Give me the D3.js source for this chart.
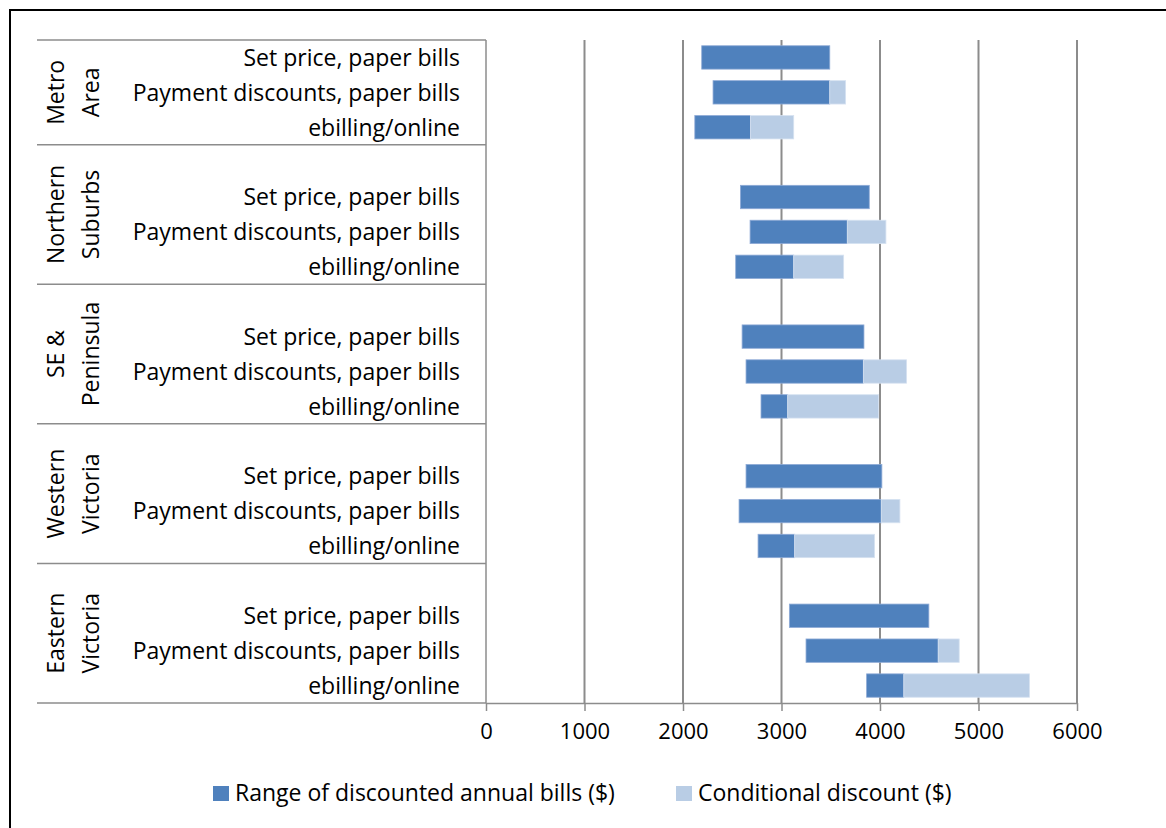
<!DOCTYPE html>
<html>
<head>
<meta charset="utf-8">
<script src="https://cdn.jsdelivr.net/npm/d3@7"></script>
<style>
  html, body { margin: 0; padding: 0; background: #fff; }
  svg { display: block; }
  text { font-family: "Open Sans", Lato, sans-serif; fill: #000; }
</style>
</head>
<body>
<svg id="chart" width="1166" height="828"></svg>
<script>
// Regions (outer category level), each drawn as two stacked lines
const regions = ["Metro Area", "Northern Suburbs", "SE & Peninsula", "Western Victoria", "Eastern Victoria"];
const regionLines = [["Metro", "Area"], ["Northern", "Suburbs"], ["SE &", "Peninsula"], ["Western", "Victoria"], ["Eastern", "Victoria"]];

// Offer types (inner category level), repeated for each region
const offers = ["Set price, paper bills", "Payment discounts, paper bills", "ebilling/online"];

// Per region × offer, in region order then offer order ($ per year)
const billLow = [2190, 2305, 2120, 2583, 2681, 2535, 2600, 2640, 2792, 2640, 2569, 2762, 3080, 3249, 3864];
const billHigh = [3490, 3490, 2685, 3891, 3668, 3124, 3837, 3831, 3063, 4019, 4013, 3134, 4496, 4591, 4242];
const conditionalDiscount = [0, 161, 439, 0, 392, 507, 0, 439, 923, 0, 189, 811, 0, 213, 1275];

const xTicks = [0, 1000, 2000, 3000, 4000, 5000, 6000];
const seriesNames = ["Range of discounted annual bills ($)", "Conditional discount ($)"];
const seriesColors = ["#4f81bd", "#b9cde5"];

// Build rows: a spacer row precedes every region except the first
const rows = [];
const records = [];
regions.forEach((r, ri) => {
  if (ri > 0) rows.push({ key: "gap-" + ri, gap: true });
  offers.forEach((o, oi) => {
    const i = ri * offers.length + oi;
    const rec = { key: r + "|" + o, region: r, ri, offer: o, low: billLow[i], high: billHigh[i], disc: conditionalDiscount[i] };
    rows.push(rec);
    records.push(rec);
  });
});

const svg = d3.select("#chart");
const plot = { left: 486, right: 1077, top: 40, bottom: 703 };
const labelLeft = 37;
const fontSize = 23;

const x = d3.scaleLinear().domain([0, 6000]).range([plot.left, plot.right]);
const y = d3.scaleBand()
  .domain(rows.map(d => d.key))
  .range([plot.top, plot.bottom])
  .paddingInner(0.33)
  .paddingOuter(0.165);
const step = y.step();

// Outer frame
svg.append("rect")
  .attr("x", 10).attr("y", 10)
  .attr("width", 1200).attr("height", 900)
  .attr("fill", "none").attr("stroke", "#000").attr("stroke-width", 2);

const gridColor = "#8c8c8c";

// Vertical gridlines
svg.append("g").selectAll("line")
  .data(xTicks.filter(t => t > 0))
  .join("line")
  .attr("x1", d => x(d)).attr("x2", d => x(d))
  .attr("y1", plot.top).attr("y2", plot.bottom)
  .attr("stroke", gridColor).attr("stroke-width", 2);

// Region boundaries: top of plot, top of each spacer row, bottom of plot
const boundaries = [0];
rows.forEach((d, i) => { if (d.gap) boundaries.push(i); });
boundaries.push(rows.length);
const boundaryY = i => plot.top + i * step;

svg.append("g").selectAll("line")
  .data(boundaries.slice(0, -1))
  .join("line")
  .attr("x1", labelLeft).attr("x2", plot.left)
  .attr("y1", d => boundaryY(d)).attr("y2", d => boundaryY(d))
  .attr("stroke", gridColor).attr("stroke-width", 1.5);

// Vertical category axis line
svg.append("line")
  .attr("x1", plot.left).attr("x2", plot.left)
  .attr("y1", plot.top).attr("y2", plot.bottom)
  .attr("stroke", gridColor).attr("stroke-width", 1.5);

// Bottom value axis
const xAxis = svg.append("g")
  .attr("transform", `translate(0,${plot.bottom})`)
  .call(d3.axisBottom(x).tickValues(xTicks).tickSizeInner(8).tickSizeOuter(0).tickPadding(12).tickFormat(d3.format("d")));
xAxis.select(".domain").attr("stroke", gridColor).attr("stroke-width", 1.5);
xAxis.selectAll(".tick line").attr("stroke", gridColor).attr("stroke-width", 1.5);
xAxis.selectAll(".tick text").attr("font-size", 22).attr("font-family", "'Open Sans', Lato, sans-serif").attr("fill", "#000");
// extend the axis line left under the category labels
svg.append("line")
  .attr("x1", labelLeft).attr("x2", plot.left)
  .attr("y1", plot.bottom).attr("y2", plot.bottom)
  .attr("stroke", gridColor).attr("stroke-width", 1.5);

// Bars: discounted bill range, then conditional discount stacked on its end
const bars = svg.append("g");
bars.selectAll("rect.range")
  .data(records)
  .join("rect")
  .attr("class", "range")
  .attr("x", d => x(d.low))
  .attr("width", d => x(d.high) - x(d.low))
  .attr("y", d => y(d.key))
  .attr("height", y.bandwidth())
  .attr("fill", seriesColors[0])
  .attr("stroke", "#8eaad6").attr("stroke-width", 0.8);

bars.selectAll("rect.disc")
  .data(records.filter(d => d.disc > 0))
  .join("rect")
  .attr("class", "disc")
  .attr("x", d => x(d.high))
  .attr("width", d => x(d.high + d.disc) - x(d.high))
  .attr("y", d => y(d.key))
  .attr("height", y.bandwidth())
  .attr("fill", seriesColors[1])
  .attr("stroke", "#d6e2f1").attr("stroke-width", 0.8);

// Inner category labels
svg.append("g").selectAll("text")
  .data(records)
  .join("text")
  .attr("x", 460)
  .attr("y", d => y(d.key) + y.bandwidth() / 2)
  .attr("dy", "0.36em")
  .attr("text-anchor", "end")
  .attr("font-size", fontSize)
  .text(d => d.offer);

// Outer region labels, rotated and centred on each region's span
regions.forEach((r, ri) => {
  const y0 = boundaryY(boundaries[ri]);
  const y1 = boundaryY(boundaries[ri + 1]);
  const cy = (y0 + y1) / 2;
  const g = svg.append("g").attr("transform", `translate(73,${cy}) rotate(-90)`);
  g.selectAll("text")
    .data(regionLines[ri])
    .join("text")
    .attr("x", 0)
    .attr("y", (d, i) => (i - 0.5) * 35)
    .attr("dy", "0.36em")
    .attr("text-anchor", "middle")
    .attr("font-size", fontSize)
    .text(d => d);
});

// Legend
const legendItems = [
  { name: seriesNames[0], color: seriesColors[0], x: 213 },
  { name: seriesNames[1], color: seriesColors[1], x: 676 }
];
const legend = svg.append("g");
legendItems.forEach(it => {
  legend.append("rect")
    .attr("x", it.x).attr("y", 786)
    .attr("width", 16).attr("height", 15)
    .attr("fill", it.color);
  legend.append("text")
    .attr("x", it.x + 22).attr("y", 793)
    .attr("dy", "0.36em")
    .attr("font-size", fontSize)
    .text(it.name);
});
</script>
</body>
</html>
